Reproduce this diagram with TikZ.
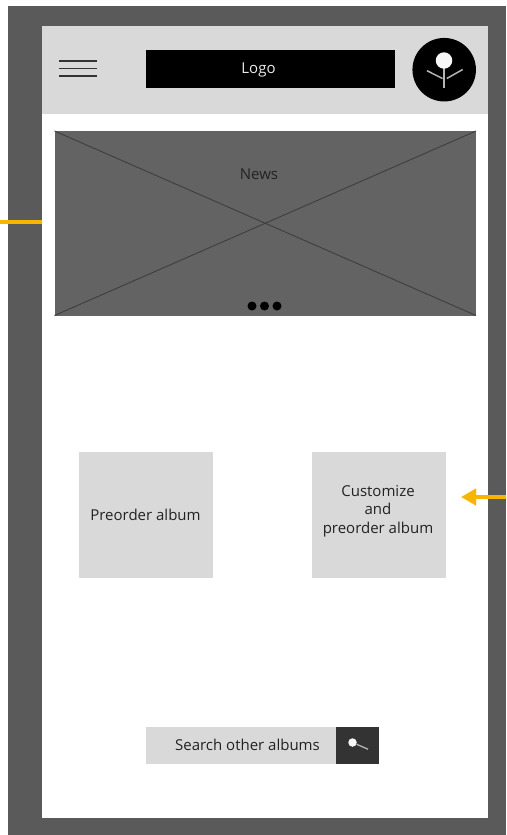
\documentclass[tikz,border=0pt]{standalone}
\usepackage{fontspec}
\setmainfont{Open Sans}
\usetikzlibrary{arrows.meta}
\definecolor{frameC}{HTML}{5A5A5A}
\definecolor{panelC}{HTML}{D9D9D9}
\definecolor{newsC}{HTML}{636363}
\definecolor{crossC}{HTML}{3E3E3E}
\definecolor{flowC}{HTML}{F7B500}
\definecolor{searchC}{HTML}{333333}
\definecolor{stemC}{HTML}{B4B4B4}
\definecolor{inkC}{HTML}{222222}
\tikzset{
  box/.style={draw=none,inner sep=0pt,outer sep=0pt,anchor=north west,align=center},
  lbl/.style={inner sep=0pt,align=center,font=\fontsize{15pt}{18.5pt}\selectfont,text=inkC},
  flow/.style={draw=flowC,line width=4pt},
  menuline/.style={draw=black!80,line width=1.3pt},
  crossline/.style={draw=crossC,line width=.9pt},
  dot/.style={circle,fill=black,inner sep=0pt,minimum size=9pt},
  stem/.style={draw=stemC,line width=1.5pt}
}
\begin{document}
\begin{tikzpicture}[x=1pt,y=-1pt]
\useasboundingbox (0,0) rectangle (506,835);
\fill[white] (0,0) rectangle (506,835);
\node[box,fill=frameC,minimum width=498pt,minimum height=829pt] (frame) at (8,6) {};
\node[box,fill=white,minimum width=446pt,minimum height=792pt] (phone) at (42,26) {};
\node[box,fill=panelC,minimum width=446pt,minimum height=87.5pt] (header) at (42,26) {};
% menu
\coordinate (m1a) at (59,61); \coordinate (m1b) at (97,61);
\coordinate (m2a) at (59,68.5); \coordinate (m2b) at (97,68.5);
\coordinate (m3a) at (59,76); \coordinate (m3b) at (97,76);
\draw[menuline] (m1a) -- (m1b);
\draw[menuline] (m2a) -- (m2b);
\draw[menuline] (m3a) -- (m3b);
% logo
\node[box,fill=black,minimum width=249pt,minimum height=38pt] (logo) at (146,50) {};
\node[lbl,text=white!92!black] (logotext) at (258.5,70) {Logo};
% avatar
\node[circle,fill=black,inner sep=0pt,minimum size=63.5pt] (avatar) at (444.2,69.7) {};
\coordinate (stemtop) at (444,62);
\coordinate (stemend) at (444,87.5);
\coordinate (la) at (427,70.7); \coordinate (lb) at (442.5,78.5);
\coordinate (ra) at (462.7,69.5); \coordinate (rb) at (446.8,78.5);
\draw[stem] (stemtop) -- (stemend);
\draw[stem] (la) -- (lb);
\draw[stem] (ra) -- (rb);
\node[circle,fill=white!97!black,inner sep=0pt,minimum size=16.5pt] (bulb) at (444,60.5) {};
% news
\node[box,fill=newsC,minimum width=421.5pt,minimum height=184.5pt] (news) at (54.5,131) {};
\draw[crossline] (news.north west) -- (news.south east);
\draw[crossline] (news.north east) -- (news.south west);
\node[lbl] (newstext) at (259,174) {News};
\node[dot] (d1) at (252,306) {};
\node[dot] (d2) at (264.5,306) {};
\node[dot] (d3) at (277,306) {};
% buttons
\node[box,fill=panelC,minimum width=134pt,minimum height=126pt] (pre) at (79,452) {};
\node[lbl] (pretext) at (145.5,515) {Preorder album};
\node[box,fill=panelC,minimum width=134pt,minimum height=126pt] (cust) at (312,452) {};
\node[lbl] (custtext) at (378,511) {Customize\\and\\preorder album};
% search
\node[box,fill=panelC,minimum width=190pt,minimum height=37pt] (search) at (146,726.5) {};
\node[lbl] (searchtext) at (247.5,745) {Search other albums};
\node[box,fill=searchC,minimum width=43pt,minimum height=37pt] (sbtn) at (336,726.5) {};
\coordinate (handle) at (368,749.2);
\node[circle,fill=white!97!black,inner sep=0pt,minimum size=8.5pt] (lens) at (352.5,742.5) {};
\draw[draw=stemC,line width=1.3pt] (lens) -- (handle);
% connectors
\coordinate (inL) at (0,222);
\coordinate (phL) at (42,222);
\draw[flow] (inL) -- (phL);
\coordinate (inR) at (506,497);
\coordinate (tipR) at (461,497);
\draw[flow,-{Triangle[length=15pt,width=16pt]}] (inR) -- (tipR);
\end{tikzpicture}
\end{document}
